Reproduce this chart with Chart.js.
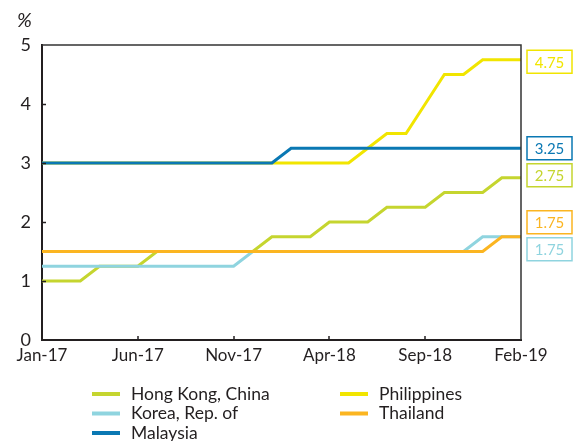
<!DOCTYPE html>
<html>
<head>
<meta charset="utf-8">
<script src="https://cdn.jsdelivr.net/npm/chart.js@4"></script>
<style>
  html, body { margin: 0; padding: 0; background: #fff; }
  #wrap { position: relative; width: 574px; height: 441px; }
</style>
</head>
<body>
<div id="wrap"><canvas id="rateChart" width="574" height="441"></canvas></div>
<script>
// Policy rates, monthly, Jan-17 .. Feb-19
const months = ['Jan-17','Feb-17','Mar-17','Apr-17','May-17','Jun-17','Jul-17','Aug-17','Sep-17','Oct-17','Nov-17','Dec-17',
                'Jan-18','Feb-18','Mar-18','Apr-18','May-18','Jun-18','Jul-18','Aug-18','Sep-18','Oct-18','Nov-18','Dec-18',
                'Jan-19','Feb-19'];
const tickLabels = ['Jan-17','Jun-17','Nov-17','Apr-18','Sep-18','Feb-19'];

const hongKong    = [1, 1, 1, 1.25, 1.25, 1.25, 1.5, 1.5, 1.5, 1.5, 1.5, 1.5, 1.75, 1.75, 1.75, 2, 2, 2, 2.25, 2.25, 2.25, 2.5, 2.5, 2.5, 2.75, 2.75];
const korea       = [1.25, 1.25, 1.25, 1.25, 1.25, 1.25, 1.25, 1.25, 1.25, 1.25, 1.25, 1.5, 1.5, 1.5, 1.5, 1.5, 1.5, 1.5, 1.5, 1.5, 1.5, 1.5, 1.5, 1.75, 1.75, 1.75];
const malaysia    = [3, 3, 3, 3, 3, 3, 3, 3, 3, 3, 3, 3, 3, 3.25, 3.25, 3.25, 3.25, 3.25, 3.25, 3.25, 3.25, 3.25, 3.25, 3.25, 3.25, 3.25];
const philippines = [3, 3, 3, 3, 3, 3, 3, 3, 3, 3, 3, 3, 3, 3, 3, 3, 3, 3.25, 3.5, 3.5, 4, 4.5, 4.5, 4.75, 4.75, 4.75];
const thailand    = [1.5, 1.5, 1.5, 1.5, 1.5, 1.5, 1.5, 1.5, 1.5, 1.5, 1.5, 1.5, 1.5, 1.5, 1.5, 1.5, 1.5, 1.5, 1.5, 1.5, 1.5, 1.5, 1.5, 1.5, 1.75, 1.75];

const seriesNames = ['Hong Kong, China', 'Korea, Rep. of', 'Malaysia', 'Philippines', 'Thailand'];
const seriesData = [hongKong, korea, malaysia, philippines, thailand];
const colors = ['#c5d52f', '#8fd4df', '#0a78b3', '#f1e500', '#fbb521'];
const drawOrder = [5, 4, 1, 3, 2];
// vertical nudge (px) for the end-value boxes so they don't overlap
const boxNudge = [-2.5, 12.5, 0, 2, -14.5];

const FONT = 'Lato, "Noto Sans", sans-serif';
const INK = '#231f20';

const extras = {
  id: 'extras',
  afterDraw(chart) {
    const { ctx, chartArea: a, scales } = chart;
    ctx.save();
    // top and right frame
    ctx.strokeStyle = '#333';
    ctx.lineWidth = 1.5;
    ctx.beginPath();
    ctx.moveTo(a.left, a.top); ctx.lineTo(a.right, a.top); ctx.lineTo(a.right, a.bottom);
    ctx.stroke();

    // inner tick marks
    ctx.strokeStyle = INK;
    ctx.lineWidth = 1.5;
    [1, 2, 3, 4].forEach(v => {
      const y = Math.round(scales.y.getPixelForValue(v)) + 0.5;
      ctx.beginPath(); ctx.moveTo(a.left, y); ctx.lineTo(a.left + 4, y); ctx.stroke();
    });
    tickLabels.slice(1, -1).forEach(l => {
      const x = Math.round(scales.x.getPixelForValue(months.indexOf(l)));
      ctx.beginPath(); ctx.moveTo(x, a.bottom); ctx.lineTo(x, a.bottom - 4); ctx.stroke();
    });

    // unit
    ctx.fillStyle = INK;
    ctx.font = 'italic 20px ' + FONT;
    ctx.textAlign = 'left';
    ctx.textBaseline = 'middle';
    ctx.fillText('%', 17, 21);

    // end-value boxes
    ctx.font = '15px ' + FONT;
    ctx.textAlign = 'center';
    seriesData.forEach((d, i) => {
      const v = d[d.length - 1];
      const cy = scales.y.getPixelForValue(v) + boxNudge[i];
      const bx = a.right + 6, bw = 45, bh = 23;
      ctx.fillStyle = '#fff';
      ctx.fillRect(bx, cy - bh / 2, bw, bh);
      ctx.strokeStyle = colors[i];
      ctx.lineWidth = 1.5;
      ctx.strokeRect(bx, cy - bh / 2, bw, bh);
      ctx.fillStyle = colors[i];
      ctx.fillText(v.toFixed(2), bx + bw / 2, cy + 1);
    });

    // legend, two columns
    ctx.font = '17.5px ' + FONT;
    ctx.textAlign = 'left';
    seriesNames.forEach((name, i) => {
      const col = Math.floor(i / 3), row = i % 3;
      const x0 = col === 0 ? 92 : 340;
      const y = 394 + row * 19.5;
      ctx.strokeStyle = colors[i];
      ctx.lineWidth = 4;
      ctx.beginPath(); ctx.moveTo(x0, y); ctx.lineTo(x0 + 28, y); ctx.stroke();
      ctx.fillStyle = INK;
      ctx.fillText(name, x0 + 39, y);
    });
    ctx.restore();
  }
};

new Chart(document.getElementById('rateChart'), {
  type: 'line',
  data: {
    labels: months,
    datasets: seriesNames.map((name, i) => ({
      label: name,
      data: seriesData[i],
      borderColor: colors[i],
      backgroundColor: colors[i],
      borderWidth: 3,
      pointRadius: 0,
      tension: 0,
      order: drawOrder[i]
    }))
  },
  options: {
    responsive: false,
    animation: false,
    layout: { padding: { top: 45, right: 53, bottom: 67, left: 0 } },
    plugins: { legend: { display: false }, tooltip: { enabled: false } },
    scales: {
      x: {
        grid: { display: false, drawTicks: false },
        border: { display: true, color: INK, width: 2 },
        ticks: {
          autoSkip: false,
          maxRotation: 0,
          padding: 5,
          color: INK,
          font: { family: FONT, size: 17 },
          callback: function (v) {
            const l = this.getLabelForValue(v);
            return tickLabels.includes(l) ? l : '';
          }
        },
        afterFit: s => { s.height = 34; }
      },
      y: {
        min: 0,
        max: 5,
        grid: { display: false, drawTicks: false },
        border: { display: true, color: INK, width: 2 },
        ticks: { stepSize: 1, padding: 11, color: INK, font: { family: FONT, size: 18 } },
        afterFit: s => { s.width = 42; }
      }
    }
  },
  plugins: [extras]
});
</script>
</body>
</html>
